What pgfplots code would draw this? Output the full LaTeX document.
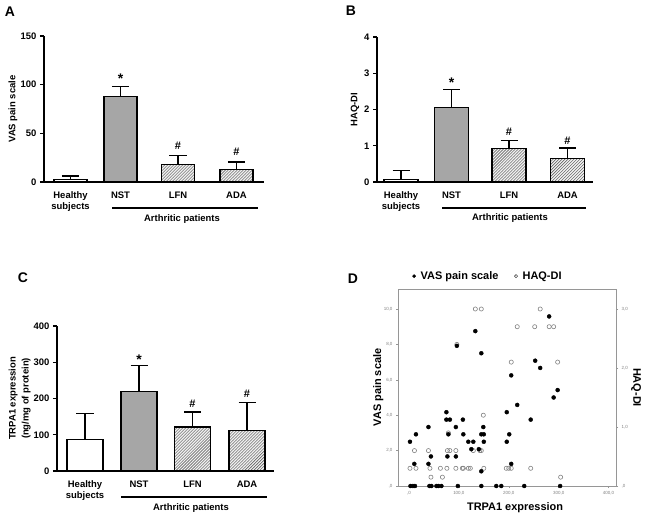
\documentclass[border=0pt]{standalone}
\usepackage{fontspec}
\setmainfont{Liberation Sans}
\usepackage{pgfplots}
\pgfplotsset{compat=1.18}
\usetikzlibrary{patterns}
\definecolor{nstgray}{RGB}{166,166,166}
\definecolor{framegray}{RGB}{150,150,150}
\tikzset{sym/.style={font=\bfseries\fontsize{11}{13}\selectfont},
         ast/.style={font=\bfseries\fontsize{14}{16}\selectfont}}
\pgfplotsset{
  barax/.style={
    scale only axis,
    axis x line*=bottom, axis y line*=left,
    axis line style={line width=1.2pt,-},
    ymin=0, xmin=0,
    ybar, bar shift=0pt,
    xtick style={draw=none},
    ytick style={line width=1.1pt, black},
    tick align=outside, major tick length=4bp,
    /pgf/number format/assume math mode=true,
    ticklabel style={font=\bfseries\fontsize{9.5}{11.5}\selectfont},
    xticklabel style={align=center, anchor=north, yshift=-2bp},
    label style={font=\bfseries\fontsize{9.5}{11.5}\selectfont},
    ylabel style={anchor=center, align=center},
    error bars/y dir=plus, error bars/y explicit,
    error bars/error bar style={line width=1.2pt, black},
    error bars/error mark options={rotate=90, mark size=8.5bp, line width=1.2pt, black},
    clip=false,
  },
  whitebar/.style={draw=black, line width=1.3pt, fill=white},
  graybar/.style={draw=black, line width=1.3pt, fill=nstgray},
  hatchbar/.style={draw=black, line width=1.3pt, fill=gray!12, postaction={pattern=north east lines, pattern color=black!70}},
  dax/.style={
    scale only axis, at={(398bp,35bp)}, anchor=south west,
    width=218bp, height=197bp, xmin=-22, xmax=415, ymin=0,
    /pgf/number format/assume math mode=true,
    ticklabel style={font=\fontsize{4.5}{5}\selectfont, text=gray},
    tick style={framegray, line width=0.4pt},
    tick align=outside, major tick length=2bp,
    label style={font=\bfseries\fontsize{11}{13}\selectfont},
    clip=false,
  },
}
\begin{document}
\begin{tikzpicture}
\useasboundingbox (0,0) rectangle (649bp,521bp);

% ---------- Panel A ----------
\begin{axis}[barax, at={(44bp,339bp)}, anchor=south west, width=220bp, height=146bp,
  xmax=220, ymax=150, ytick={0,50,100,150}, bar width=33,
  xtick={26.5,76.5,134,192.5}, xticklabels={{Healthy\\subjects},NST,LFN,ADA},
  ylabel={VAS pain scale}, ylabel style={at={(axis description cs:-0.141,0.5)}}]
\addplot[whitebar] coordinates {(26.5,2.7) +- (0,3.5)};
\addplot[graybar] coordinates {(76.5,88.2) +- (0,10.3)};
\addplot[hatchbar] coordinates {(134,18.2) +- (0,9.3)};
\addplot[hatchbar] coordinates {(192.5,13) +- (0,7.6)};
\node[ast] at (axis cs:76.5,106) {*};
\node[sym] at (axis cs:134,37.7) {\#};
\node[sym] at (axis cs:192.5,31.5) {\#};
\end{axis}

% ---------- Panel B ----------
\begin{axis}[barax, at={(377bp,339bp)}, anchor=south west, width=216bp, height=145bp,
  xmax=216, ymax=4, ytick={0,1,2,3,4}, bar width=34,
  xtick={24,74.5,132,190.5}, xticklabels={{Healthy\\subjects},NST,LFN,ADA},
  ylabel={HAQ-DI}, ylabel style={at={(axis description cs:-0.102,0.5)}}]
\addplot[whitebar] coordinates {(24,0.07) +- (0,0.25)};
\addplot[graybar] coordinates {(74.5,2.06) +- (0,0.49)};
\addplot[hatchbar] coordinates {(132,0.92) +- (0,0.23)};
\addplot[hatchbar] coordinates {(190.5,0.65) +- (0,0.29)};
\node[ast] at (axis cs:74.5,2.73) {*};
\node[sym] at (axis cs:132,1.39) {\#};
\node[sym] at (axis cs:190.5,1.14) {\#};
\end{axis}

% ---------- Panel C ----------
\begin{axis}[barax, at={(57bp,50bp)}, anchor=south west, width=217bp, height=145bp,
  xmax=217, ymax=400, ytick={0,100,200,300,400}, bar width=36,
  xtick={28,82,135.5,190}, xticklabels={{Healthy\\subjects},NST,LFN,ADA},
  ylabel={TRPA1 expression\\[1.5bp](ng/mg of protein)}, ylabel style={at={(axis description cs:-0.172,0.5)}}]
\addplot[whitebar] coordinates {(28,87) +- (0,71)};
\addplot[graybar] coordinates {(82,219) +- (0,73)};
\addplot[hatchbar] coordinates {(135.5,121) +- (0,42)};
\addplot[hatchbar] coordinates {(190,111) +- (0,77)};
\node[ast] at (axis cs:82,308) {*};
\node[sym] at (axis cs:135.5,185.7) {\#};
\node[sym] at (axis cs:190,213) {\#};
\end{axis}

% ---------- Panel D ----------
\begin{axis}[dax, ymax=3.339, axis x line=none, axis y line*=right,
  axis line style={framegray,-},
  ytick={0,1,2,3}, yticklabels={{,0},{1,0},{2,0},{3,0}},
  ylabel={HAQ-DI}, ylabel style={at={(axis description cs:1.092,0.5)}, anchor=center, rotate=180}]
\addplot[only marks, mark=o, mark size=2.1bp, mark options={draw=black!50, fill=white, line width=0.6pt}] coordinates {
(2,0.3)(11,0.6)(14,0.3)(39,0.6)(42,0.3)(44,0.15)(63,0.3)(67,0.15)(76,0.3)(77,0.6)
(82,0.6)(79,0.9)(94,0.3)(94,0.6)(96,2.4)(107,0.3)(109,0.3)(119,0.3)(123,0.3)(129,0.6)
(133,3.0)(145,3.0)(142,0.6)(145,0.6)(149,1.2)(150,0.3)(195,0.3)(200,0.3)(205,0.3)(205,2.1)
(217,2.7)(244,0.3)(252,2.7)(263,3.0)(281,2.7)(290,2.7)(298,2.1)(304,0.15)};
\end{axis}

\begin{axis}[dax, ymax=11.13, axis line style={framegray},
  xtick pos=bottom, ytick pos=left,
  xtick={0,100,200,300,400}, xticklabels={{,0},{100,0},{200,0},{300,0},{400,0}},
  ytick={0,2,4,6,8,10}, yticklabels={{,0},{2,0},{4,0},{6,0},{8,0},{10,0}},
  xlabel={TRPA1 expression}, xlabel style={at={(axis description cs:0.537,-0.11)}, anchor=center},
  ylabel={VAS pain scale}, ylabel style={at={(axis description cs:-0.09,0.5)}, anchor=center},
  legend style={draw=none, fill=none, legend columns=2, at={(axis description cs:0.413,1.025)}, anchor=south,
    font=\bfseries\fontsize{11}{13}\selectfont, inner sep=1bp,
    /tikz/every odd column/.append style={column sep=3bp},
    /tikz/every even column/.append style={column sep=14bp}},
  legend cell align=left]
\addlegendimage{only marks, mark=*, mark size=1.6bp, black}
\addlegendentry{VAS pain scale}
\addlegendimage{only marks, mark=o, mark size=1.6bp, mark options={draw=black!70, line width=0.6pt}}
\addlegendentry{HAQ-DI}
\addplot[only marks, mark=*, mark size=2bp, black, forget plot] coordinates {
(2,2.5)(10.7,1.25)(14,2.92)(39,3.33)(39,1.25)(44,1.67)(75,4.17)(75,3.75)(82,3.75)(79,2.92)
(77,1.67)(94,3.33)(94,1.67)(108,3.75)(109,2.92)(96,7.92)(133,8.75)(145,7.5)(119,2.5)(129,2.5)
(125,2.08)(140,2.08)(145,0.83)(145,2.92)(150,2.92)(149,3.33)(150,2.5)(196,4.17)(196,2.5)(201,2.92)
(205,1.25)(205,6.25)(217,4.58)(244,3.75)(253,7.08)(263,6.67)(281,9.58)(290,5.0)(298,5.42)
(3,0)(8,0)(12,0)(41,0)(45,0)(55,0)(59,0)(65,0)(98,0)(145,0)(175,0)(185,0)(231,0)(303,0)};
\end{axis}

% ---------- Group lines and labels ----------
\begin{scope}[every node/.style={font=\bfseries\fontsize{9.5}{11.5}\selectfont}]
\draw[line width=1.2pt] (112bp,313bp) -- (258bp,313bp);
\node at (182bp,302bp) {Arthritic patients};
\draw[line width=1.2pt] (442bp,313bp) -- (586bp,313bp);
\node at (510bp,303bp) {Arthritic patients};
\draw[line width=1.2pt] (121bp,24bp) -- (267bp,24bp);
\node at (191bp,13bp) {Arthritic patients};
\end{scope}

\begin{scope}[every node/.style={font=\bfseries\fontsize{14}{16}\selectfont}]
\node at (10bp,509bp) {A};
\node at (351bp,510bp) {B};
\node at (23bp,243bp) {C};
\node at (353bp,242bp) {D};
\end{scope}
\end{tikzpicture}
\end{document}
